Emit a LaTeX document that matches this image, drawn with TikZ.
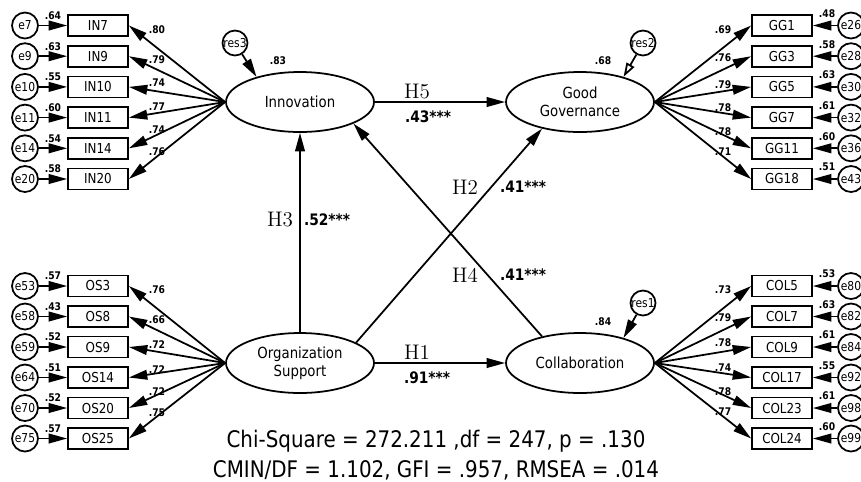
\documentclass[tikz,border=0pt]{standalone}
\usepackage{fontspec}
\usepackage{tikz}
\usetikzlibrary{shapes.geometric,arrows.meta}
\newfontfamily\amos[FakeStretch=0.87]{DejaVu Sans}

\tikzset{
  latent/.style={ellipse,draw,line width=1pt,minimum width=2.96cm,minimum height=1.2cm,inner sep=0pt,align=center,font=\amos\fontsize{8.7}{10}\selectfont},
  obs/.style={rectangle,draw,line width=1pt,minimum width=1.2cm,minimum height=0.42cm,inner sep=0pt,font=\amos\fontsize{7.8}{9}\selectfont},
  err/.style={circle,draw,line width=1pt,minimum size=0.52cm,inner sep=0pt,font=\amos\fontsize{7}{8}\selectfont},
  res/.style={err,minimum size=0.5cm},
  coef/.style={inner sep=0pt,font=\amos\bfseries\fontsize{6}{7}\selectfont},
  hyp/.style={inner sep=0pt,font=\fontsize{12}{14}\selectfont},
  est/.style={inner sep=0pt,font=\amos\bfseries\fontsize{9}{10}\selectfont},
  fitline/.style={inner sep=0pt,font=\amos\fontsize{13}{15}\selectfont},
  arr/.style={line width=1pt,-{Triangle[length=10.5pt,width=5.5pt]}},
  openarr/.style={line width=1pt,-{Triangle[open,length=8pt,width=5pt]}},
}

\begin{document}
\begin{tikzpicture}[x=0.02cm,y=-0.02cm]
\useasboundingbox (0,0) rectangle (861,481);
\node[latent] (inno) at (300,102) {Innovation};
\node[latent] (gov) at (580,102) {Good\\Governance};
\node[latent] (org) at (300,363) {Organization\\Support};
\node[latent] (col) at (580,363) {Collaboration};

\foreach \v/\e/\r/\l/\ly [count=\i from 0] in {IN7/e7/.64/.80/30, IN9/e9/.63/.79/60, IN10/e10/.55/.74/83, IN11/e11/.60/.77/107, IN14/e14/.54/.74/130, IN20/e20/.58/.76/152}{
  \pgfmathsetmacro\y{25.5+30.7*\i}
  \node[obs] (\v) at (98,\y) {\v};
  \node[err] (\e) at (25,\y) {\e};
  \node[coef] (r\v) at (53,\y-10) {\r};
  \node[coef] (l\v) at (157,\ly) {\l};
  \draw[arr] (\e) -- (\v);
  \draw[arr] (inno.west) -- (\v.east);
}
\foreach \v/\e/\r/\l/\ly [count=\i from 0] in {OS3/e53/.57/.76/290, OS8/e58/.43/.66/320, OS9/e59/.52/.72/345, OS14/e64/.51/.72/370, OS20/e70/.52/.72/392, OS25/e75/.57/.75/413}{
  \pgfmathsetmacro\y{286+30.5*\i}
  \node[obs] (\v) at (98,\y) {\v};
  \node[err] (\e) at (25,\y) {\e};
  \node[coef] (r\v) at (53,\y-10) {\r};
  \node[coef] (l\v) at (157,\ly) {\l};
  \draw[arr] (\e) -- (\v);
  \draw[arr] (org.west) -- (\v.east);
}
\foreach \v/\e/\r/\l/\ly [count=\i from 0] in {GG1/e26/.48/.69/30, GG3/e28/.58/.76/58, GG5/e30/.63/.79/85, GG7/e32/.61/.78/108, GG11/e36/.60/.78/132, GG18/e43/.51/.71/152}{
  \pgfmathsetmacro\y{25.5+30.7*\i}
  \node[obs] (\v) at (782,\y) {\v};
  \node[err] (\e) at (851,\y) {\e};
  \node[coef] (r\v) at (827,\y-12) {\r};
  \node[coef] (l\v) at (723,\ly) {\l};
  \draw[arr] (\e) -- (\v);
  \draw[arr] (gov.east) -- (\v.west);
}
\foreach \v/\e/\r/\l/\ly [count=\i from 0] in {COL5/e80/.53/.73/290, COL7/e82/.63/.79/318, COL9/e84/.61/.78/343, COL17/e92/.55/.74/368, COL23/e98/.61/.78/392, COL24/e99/.60/.77/412}{
  \pgfmathsetmacro\y{286+30.5*\i}
  \node[obs] (\v) at (782,\y) {\v};
  \node[err] (\e) at (851,\y) {\e};
  \node[coef] (r\v) at (827,\y-12) {\r};
  \node[coef] (l\v) at (723,\ly) {\l};
  \draw[arr] (\e) -- (\v);
  \draw[arr] (col.east) -- (\v.west);
}

\node[res] (res3) at (235,43) {res3};
\node[res] (res2) at (643,43) {res2};
\node[res] (res1) at (643,303) {res1};
\draw[arr] (res3) -- (inno.150);
\draw[openarr] (res2) -- (gov.30);
\draw[arr] (res1) -- (col.30);
\node[coef] (rinno) at (278,61) {.83};
\node[coef] (rgov) at (603,61) {.68};
\node[coef] (rcol) at (603,322) {.84};

\draw[arr] (inno) -- (gov);
\draw[arr] (org) -- (inno);
\draw[arr] (org.20) -- (gov.215);
\draw[arr] (col.145) -- (inno.338);
\draw[arr] (org) -- (col);
\node[hyp] (h5) at (417,92) {H5};
\node[est] (b5) at (428,117) {.43***};
\node[hyp] (h3) at (280,220) {H3};
\node[est] (b3) at (327,220) {.52***};
\node[hyp] (h2) at (465,187) {H2};
\node[est] (b2) at (523,187) {.41***};
\node[hyp] (h4) at (465,275) {H4};
\node[est] (b4) at (523,275) {.41***};
\node[hyp] (h1) at (417,352) {H1};
\node[est] (b1) at (427,378) {.91***};

\node[fitline] (chi) at (436,441) {Chi-Square = 272.211 ,df = 247, p = .130};
\node[fitline] (cmin) at (436,470) {CMIN/DF = 1.102, GFI = .957, RMSEA = .014};
\end{tikzpicture}
\end{document}
